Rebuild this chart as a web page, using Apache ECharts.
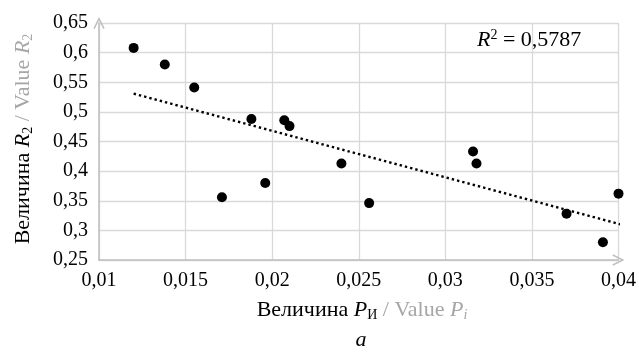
<!DOCTYPE html>
<html>
<head>
<meta charset="utf-8">
<script src="https://cdn.jsdelivr.net/npm/echarts@6/dist/echarts.min.js"></script>
<style>
  html, body { margin: 0; padding: 0; background: #fff; }
  #chart { width: 639px; height: 353px; }
</style>
</head>
<body>
<div id="chart"></div>
<script>
// значения
const xValues = [0.0120, 0.0138, 0.0155, 0.0188, 0.0207, 0.0210, 0.0240, 0.0196,
  0.0171, 0.0256, 0.0316, 0.0318, 0.0370, 0.0391, 0.0400];
const yValues = [0.608, 0.580, 0.541, 0.488, 0.486, 0.476, 0.413, 0.380,
  0.356, 0.346, 0.433, 0.413, 0.328, 0.280, 0.362];
const r2Label = "0,5787";
const xTrendRange = [0.0120, 0.0401];

const FONT = "'Liberation Serif', 'Times New Roman', serif";
const GREY = "#a6a6a6";

// линейный тренд (МНК)
const n = xValues.length;
const mx = xValues.reduce((a, b) => a + b, 0) / n;
const my = yValues.reduce((a, b) => a + b, 0) / n;
let sxy = 0, sxx = 0;
for (let i = 0; i < n; i++) {
  sxy += (xValues[i] - mx) * (yValues[i] - my);
  sxx += (xValues[i] - mx) * (xValues[i] - mx);
}
const slope = sxy / sxx;
const trendData = xTrendRange.map((x) => [x, my + slope * (x - mx)]);

const points = xValues.map((x, i) => [x, yValues[i]]);
const comma = (v) => String(+v.toFixed(4)).replace(".", ",");
// открытая стрелка на конце оси
const arrow = "path://M0,10 L5,0 L10,10 L8.8,10.6 L5,3 L1.2,10.6 Z";

const chart = echarts.init(document.getElementById("chart"), null, { renderer: "canvas" });

// стили для подписей осей (zrender: fill вместо color)
const big = { fontFamily: FONT, fontSize: 22, lineHeight: 24, verticalAlign: "middle" };
const small = { fontFamily: FONT, fontSize: 14, lineHeight: 14 };
const rich = {
  b: Object.assign({ fill: "#000" }, big),
  bi: Object.assign({ fill: "#000", fontStyle: "italic" }, big),
  bs: Object.assign({ fill: "#000", verticalAlign: "bottom" }, small),
  g: Object.assign({ fill: GREY }, big),
  gi: Object.assign({ fill: GREY, fontStyle: "italic" }, big),
  gs: Object.assign({ fill: GREY, verticalAlign: "bottom" }, small),
  gsi: Object.assign({ fill: GREY, fontStyle: "italic", verticalAlign: "bottom" }, small),
  sup: Object.assign({ fill: "#000", verticalAlign: "top" }, small),
};

const axisCommon = {
  type: "value",
  axisLine: {
    show: true,
    symbol: ["none", arrow],
    symbolSize: [14, 12],
    lineStyle: { color: "#bfbfbf", width: 1.5 },
  },
  axisTick: { show: false },
  axisLabel: { formatter: comma, fontFamily: FONT, fontSize: 20, color: "#000" },
  splitLine: { show: true, lineStyle: { color: "#d9d9d9", width: 1.3 } },
};

const option = {
  backgroundColor: "#fff",
  animation: false,
  grid: { left: 99, right: 20, top: 23, bottom: 93 },
  xAxis: Object.assign({}, axisCommon, {
    min: 0.01, max: 0.04, interval: 0.005,
    axisLabel: Object.assign({}, axisCommon.axisLabel, { margin: 11 }),
  }),
  yAxis: Object.assign({}, axisCommon, {
    min: 0.25, max: 0.65, interval: 0.05,
    axisLabel: Object.assign({}, axisCommon.axisLabel, { margin: 11 }),
  }),
  series: [
    {
      type: "line",
      data: trendData,
      symbol: "none",
      silent: true,
      lineStyle: { color: "#000", width: 2.4, type: [2.4, 3] },
      z: 1,
    },
    {
      type: "scatter",
      data: points,
      symbol: "circle",
      symbolSize: 10,
      itemStyle: { color: "#000", opacity: 1 },
      z: 2,
    },
  ],
  graphic: [
    {
      type: "text",
      left: 477,
      top: 28,
      style: { text: "{bi|R}{sup|2}{b| = " + r2Label + "}", rich: rich },
    },
    {
      type: "text",
      x: 23,
      y: 139,
      rotation: Math.PI / 2,
      style: {
        text: "{b|Величина }{bi|R}{bs|2}{g| / Value }{gi|R}{gs|2}",
        rich: rich,
        align: "center",
        verticalAlign: "middle",
      },
    },
    {
      type: "text",
      x: 362,
      y: 310,
      style: {
        text: "{b|Величина }{bi|P}{bs|И}{g| / Value }{gi|P}{gsi|i}",
        rich: rich,
        align: "center",
        verticalAlign: "middle",
      },
    },
    {
      type: "text",
      x: 361,
      y: 340,
      style: {
        text: "a",
        fontFamily: FONT,
        fontSize: 22,
        fontStyle: "italic",
        fill: "#000",
        align: "center",
        verticalAlign: "middle",
      },
    },
  ],
};

chart.setOption(option);
</script>
</body>
</html>
